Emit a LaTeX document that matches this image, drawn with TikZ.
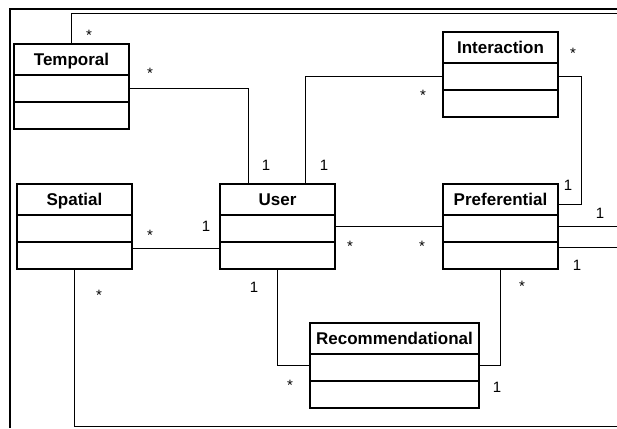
\documentclass[tikz,border=0pt]{standalone}
\usepackage{fontspec}
\setmainfont{Liberation Sans}
\usetikzlibrary{positioning}

\tikzset{
    classhead/.style={draw, line width=1.3pt, anchor=north west, minimum height=31pt,
                      text height=12.2pt, text depth=0pt,
                      inner sep=0pt, outer sep=0pt, font=\fontsize{17}{20}\selectfont\bfseries},
    classpart/.style={draw, line width=1.3pt, minimum height=27pt, inner sep=0pt, outer sep=0pt},
    assoc/.style={line width=0.9pt},
    mult/.style={inner sep=0pt, font=\fontsize{15}{18}\selectfont},
}

\begin{document}
\begin{tikzpicture}[x=1pt, y=-1pt]
    \useasboundingbox (0,0) rectangle (617,428);

    % frame
    \draw[line width=2pt] (10,428) -- (10,9) -- (617,9);

    % classes
    \node[classhead, minimum width=115pt] (temporal) at (14,44) {Temporal};
    \node[classpart, minimum width=115pt, below=0pt of temporal] (temporal-att) {};
    \node[classpart, minimum width=115pt, below=0pt of temporal-att] (temporal-op) {};

    \node[classhead, minimum width=115pt] (interaction) at (443,32) {Interaction};
    \node[classpart, minimum width=115pt, below=0pt of interaction] (interaction-att) {};
    \node[classpart, minimum width=115pt, below=0pt of interaction-att] (interaction-op) {};

    \node[classhead, minimum width=115pt] (spatial) at (17,184) {Spatial};
    \node[classpart, minimum width=115pt, below=0pt of spatial] (spatial-att) {};
    \node[classpart, minimum width=115pt, below=0pt of spatial-att] (spatial-op) {};

    \node[classhead, minimum width=115pt] (user) at (220,184) {User};
    \node[classpart, minimum width=115pt, below=0pt of user] (user-att) {};
    \node[classpart, minimum width=115pt, below=0pt of user-att] (user-op) {};

    \node[classhead, minimum width=115pt] (preferential) at (443,184) {Preferential};
    \node[classpart, minimum width=115pt, below=0pt of preferential] (preferential-att) {};
    \node[classpart, minimum width=115pt, below=0pt of preferential-att] (preferential-op) {};

    \node[classhead, minimum width=169pt] (recomm) at (310,323) {Recommendational};
    \node[classpart, minimum width=169pt, below=0pt of recomm] (recomm-att) {};
    \node[classpart, minimum width=169pt, below=0pt of recomm-att] (recomm-op) {};

    % loose ends at the right side
    \coordinate (out-top) at (617,13);
    \coordinate (out-bottom) at (617,426);
    \coordinate (out-right) at (617,0);

    % associations
    \draw[assoc] (temporal.north) |- (out-top);
    \draw[assoc] (temporal-att.east) -| ([xshift=28pt]user.north west);
    \draw[assoc] (interaction-att.west) -| ([xshift=85pt]user.north west);
    \draw[assoc] (interaction-att.east) -- ++(23,0) |- ([yshift=-4.5pt]preferential.east);
    \draw[assoc] ([yshift=7.5pt]spatial-op.east) -- ([yshift=7.5pt]user-op.west);
    \draw[assoc] ([yshift=2.5pt]user-att.east) -- ([yshift=2.5pt]preferential-att.west);
    \draw[assoc] ([yshift=2.5pt]preferential-att.east) -- ([yshift=2.5pt]preferential-att.east -| out-right);
    \draw[assoc] ([yshift=8.5pt]preferential-op.east) -- ([yshift=8.5pt]preferential-op.east -| out-right);
    \draw[assoc] (user-op.south) |- ([yshift=2.5pt]recomm-att.west);
    \draw[assoc] (preferential-op.south) |- ([yshift=2.5pt]recomm-att.east);
    \draw[assoc] (spatial-op.south) |- (out-bottom);

    % multiplicities
    \node[mult] (m-temporal-top) at (89,35) {*};
    \node[mult] (m-temporal-user) at (150,73) {*};
    \node[mult] (m-user-temporal) at (266,165) {1};
    \node[mult] (m-interaction-user) at (423,95) {*};
    \node[mult] (m-user-interaction) at (324,165) {1};
    \node[mult] (m-interaction-pref) at (573,53) {*};
    \node[mult] (m-pref-interaction) at (568,185) {1};
    \node[mult] (m-spatial-user) at (150,235) {*};
    \node[mult] (m-user-spatial) at (206,226) {1};
    \node[mult] (m-user-pref) at (350,246) {*};
    \node[mult] (m-pref-user) at (422,246) {*};
    \node[mult] (m-pref-out-a) at (600,213) {1};
    \node[mult] (m-pref-out-b) at (577,265) {1};
    \node[mult] (m-user-recomm) at (254,287) {1};
    \node[mult] (m-recomm-user) at (290,385) {*};
    \node[mult] (m-pref-recomm) at (522,286) {*};
    \node[mult] (m-recomm-pref) at (497,387) {1};
    \node[mult] (m-spatial-bottom) at (99,295) {*};
\end{tikzpicture}
\end{document}
